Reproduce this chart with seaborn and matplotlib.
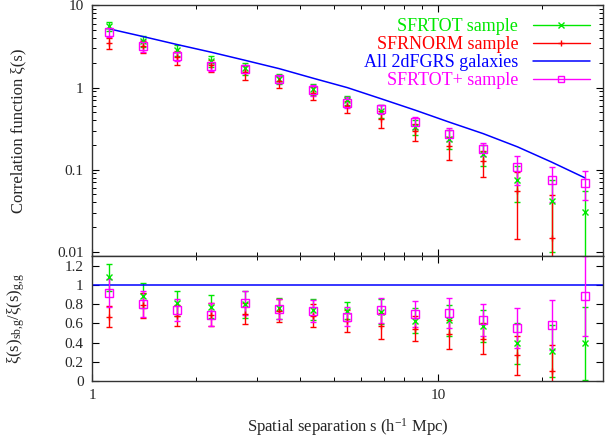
import numpy as np
import pandas as pd
import seaborn as sns
import matplotlib
matplotlib.use("Agg")
from matplotlib import pyplot as plt
from matplotlib.lines import Line2D
from matplotlib.ticker import LogLocator, FixedLocator, NullFormatter, FixedFormatter

# separation bins (h^-1 Mpc)
s = [1.12, 1.40, 1.76, 2.21, 2.77, 3.48, 4.36, 5.47, 6.86, 8.61, 10.78, 13.52, 16.98, 21.3, 26.7]

# all 2dFGRS galaxies
xi_all = [5.2, 4.2, 3.35, 2.7, 2.15, 1.7, 1.3, 1.0, 0.73, 0.53, 0.38, 0.275, 0.19, 0.124, 0.079]

# SFRTOT sample
xi_tot = [5.6, 3.7, 2.85, 2.09, 1.72, 1.29, 0.96, 0.70, 0.526, 0.333, 0.24, 0.157, 0.075, 0.042, 0.031]
xi_tot_err = [0.72, 0.55, 0.45, 0.33, 0.30, 0.19, 0.14, 0.087, 0.095, 0.069, 0.061, 0.045, 0.035, 0.032, 0.024]
r_tot = [1.08, 0.885, 0.81, 0.774, 0.80, 0.757, 0.74, 0.733, 0.72, 0.628, 0.63, 0.571, 0.39, 0.314, 0.39]
r_tot_err = [0.14, 0.13, 0.13, 0.12, 0.14, 0.11, 0.11, 0.09, 0.13, 0.13, 0.16, 0.17, 0.21, 0.27, 0.38]

# SFRNORM sample (no last bin)
xi_norm = [3.5, 3.17, 2.33, 1.86, 1.55, 1.19, 0.865, 0.594, 0.42, 0.293, 0.193, 0.126, 0.0545, 0.0146]
xi_norm_err = [0.55, 0.5, 0.45, 0.33, 0.3, 0.2, 0.15, 0.1, 0.1, 0.07, 0.06, 0.045, 0.04, 0.034]
r_norm = [0.667, 0.79, 0.677, 0.69, 0.70, 0.73, 0.68, 0.628, 0.573, 0.545, 0.486, 0.44, 0.268, 0.105]
r_norm_err = [0.11, 0.13, 0.11, 0.12, 0.11, 0.12, 0.12, 0.115, 0.135, 0.13, 0.15, 0.16, 0.205, 0.27]

# SFRTOT+ sample
xi_plus = [4.77, 3.25, 2.41, 1.81, 1.70, 1.26, 0.935, 0.658, 0.546, 0.377, 0.272, 0.179, 0.107, 0.074, 0.0694]
xi_plus_err = [0.62, 0.52, 0.33, 0.2, 0.21, 0.13, 0.135, 0.1, 0.07, 0.063, 0.048, 0.034, 0.042, 0.033, 0.027]
r_plus = [0.913, 0.80, 0.74, 0.6875, 0.816, 0.75, 0.729, 0.67, 0.736, 0.698, 0.705, 0.634, 0.554, 0.582, 0.885]
r_plus_err = [0.145, 0.135, 0.115, 0.12, 0.125, 0.105, 0.113, 0.095, 0.128, 0.135, 0.156, 0.165, 0.21, 0.26, 0.42]

GREEN = "#00e800"
RED = "#ff0000"
BLUE = "#0000ff"
MAG = "#ff00ff"

sns.set_theme(style="ticks")
plt.rcParams["font.family"] = ["Liberation Serif", "DejaVu Serif"]
plt.rcParams["mathtext.fontset"] = "custom"
plt.rcParams["mathtext.rm"] = "Liberation Serif"
plt.rcParams["mathtext.it"] = "Liberation Serif:italic"
plt.rcParams["axes.unicode_minus"] = False

fig = plt.figure(figsize=(6.11, 4.43), dpi=100)
ax1 = fig.add_axes([0.1506, 0.4221, 0.8363, 0.5655])
ax2 = fig.add_axes([0.1506, 0.14, 0.8363, 0.2821])

eb = dict(capsize=2.5, elinewidth=1.0, capthick=1.0, linestyle="none")

# top panel
ax1.errorbar(s, xi_tot, yerr=xi_tot_err, color=GREEN, marker="x", ms=4.5, mew=1.0, **eb)
ax1.errorbar(s[:14], xi_norm, yerr=xi_norm_err, color=RED, marker="+", ms=5, mew=1.0, **eb)
df_all = pd.DataFrame({"s": s, "xi": xi_all})
sns.lineplot(data=df_all, x="s", y="xi", ax=ax1, color=BLUE, lw=1.1)
ax1.errorbar(s, xi_plus, yerr=xi_plus_err, color=MAG, marker="s", ms=6, mew=1.0,
             mfc="none", **eb)

ax1.set_xscale("log")
ax1.set_yscale("log")
ax1.set_xlim(1, 30)
ax1.set_ylim(0.0089, 10)
ax1.set_yticks([0.01, 0.1, 1, 10])
ax1.set_yticklabels(["0.01", "0.1", "1", "10"])
ax1.yaxis.set_minor_locator(LogLocator(base=10, subs=np.arange(2, 10)))
ax1.yaxis.set_minor_formatter(NullFormatter())
ax1.xaxis.set_major_formatter(NullFormatter())
ax1.xaxis.set_minor_formatter(NullFormatter())
ax1.set_xlabel("")
ax1.set_ylabel("Correlation function ξ(s)", fontsize=12)
ax1.yaxis.set_label_coords(-0.128, 0.5)

handles = [
    Line2D([], [], color=GREEN, marker="x", ms=4.5, lw=1),
    Line2D([], [], color=RED, marker="+", ms=5, lw=1),
    Line2D([], [], color=BLUE, lw=1.1),
    Line2D([], [], color=MAG, marker="s", ms=5, mfc="none", lw=1),
]
labels = ["SFRTOT sample", "SFRNORM sample", "All 2dFGRS galaxies", "SFRTOT+ sample"]
leg = ax1.legend(handles, labels, loc="upper right", frameon=False, markerfirst=False,
                 fontsize=13, handlelength=3.2, labelspacing=0.05, borderaxespad=0.3,
                 handletextpad=0.8)
for t, c in zip(leg.get_texts(), [GREEN, RED, BLUE, MAG]):
    t.set_color(c)

# bottom panel
ax2.errorbar(s, r_tot, yerr=r_tot_err, color=GREEN, marker="x", ms=4.5, mew=1.0, **eb)
ax2.errorbar(s[:14], r_norm, yerr=r_norm_err, color=RED, marker="+", ms=5, mew=1.0, **eb)
ax2.axhline(1.0, color=BLUE, lw=1.1)
ax2.errorbar(s, r_plus, yerr=r_plus_err, color=MAG, marker="s", ms=6, mew=1.0,
             mfc="none", **eb)

ax2.set_xscale("log")
ax2.set_xlim(1, 30)
ax2.set_ylim(0, 1.3)
ax2.yaxis.set_major_locator(FixedLocator([0, 0.2, 0.4, 0.6, 0.8, 1.0, 1.2]))
ax2.yaxis.set_major_formatter(FixedFormatter(["0", "0.2", "0.4", "0.6", "0.8", "1", "1.2"]))
ax2.set_xticks([1, 10])
ax2.set_xticklabels(["1", "10"])
ax2.xaxis.set_minor_formatter(NullFormatter())
ax2.set_xlabel("Spatial separation s (h$^{-1}$ Mpc)", fontsize=12, labelpad=10)
ax2.set_ylabel("ξ(s)$_{\\mathrm{sb{,}g}}$/ξ(s)$_{\\mathrm{g{,}g}}$", fontsize=12)
ax2.yaxis.set_label_coords(-0.128, 0.5)

for ax in (ax1, ax2):
    ax.tick_params(which="both", direction="in", top=True, right=True, labelsize=11,
                   color="black")
    ax.tick_params(which="major", length=5, width=0.8, pad=6)
    ax.tick_params(which="minor", length=3, width=0.7)
    for sp in ax.spines.values():
        sp.set_color("#333333")
        sp.set_linewidth(1.0)

fig.savefig("out.png", dpi=100)
